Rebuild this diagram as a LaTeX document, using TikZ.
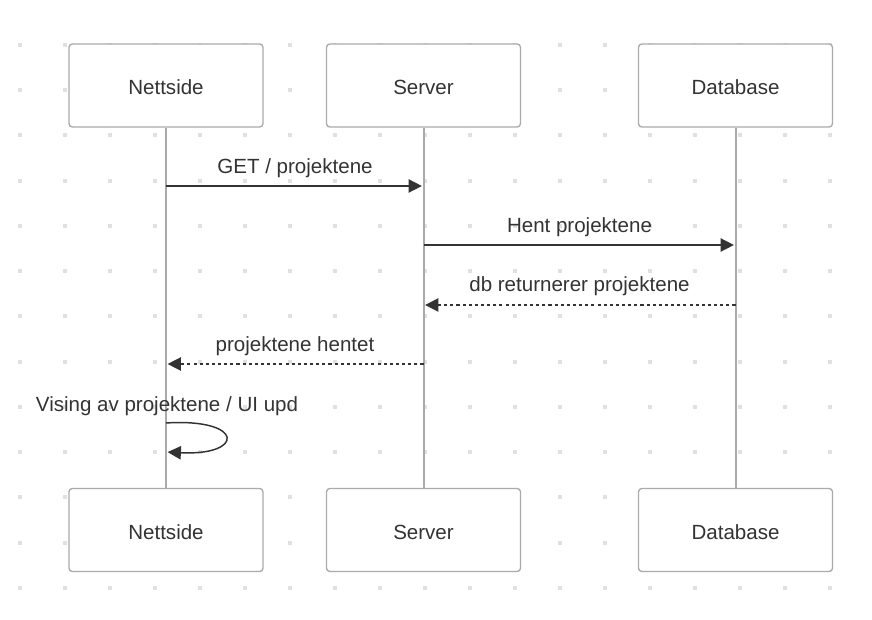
\documentclass[tikz,border=0pt]{standalone}
\usepackage{fontspec}
\setmainfont{Liberation Sans}
\usetikzlibrary{arrows.meta,positioning,calc}
\definecolor{ink}{HTML}{333333}
\definecolor{frame}{HTML}{AAAAAA}
\definecolor{dotgray}{HTML}{E0E0E0}
\tikzset{>={Triangle[length=10pt,width=10pt]}}

\begin{document}
\begin{tikzpicture}[x=0.75pt,y=-0.75pt,
  actor/.style={draw=frame,line width=1pt,rounded corners=2.5pt,fill=white,
    minimum width=145.5pt,minimum height=62.25pt,inner sep=0pt,
    text height=14pt,text depth=0pt,
    text=ink,font=\fontsize{15.4}{18}\selectfont},
  lifeline/.style={draw=frame,line width=1.5pt},
  msg/.style={->,draw=ink,line width=1.1pt,shorten >=1.2pt},
  reply/.style={msg,dash pattern=on 2.3pt off 2.3pt},
  lbl/.style={text=ink,inner sep=0pt,font=\fontsize{15.4}{18}\selectfont}]

\useasboundingbox (0,0) rectangle (872,620);

% dotted background
\foreach \i in {0,...,18}
  \foreach \j in {0,...,12}
    \fill[dotgray] ({20+45*\i-2},{45+45.25*\j-2}) rectangle ++(4,4);

% participants
\node [actor] (nett1) at (166,85.5) {Nettside};
\node [actor] (serv1) at (423.5,85.5) {Server};
\node [actor] (db1) at (735.5,85.5) {Database};
\node [actor] (nett2) at (166,530) {Nettside};
\node [actor] (serv2) at (423.5,530) {Server};
\node [actor] (db2) at (735.5,530) {Database};

\draw[lifeline] (nett1) -- (nett2);
\draw[lifeline] (serv1) -- (serv2);
\draw[lifeline] (db1) -- (db2);

% messages
\coordinate (get-a) at (nett1 |- 0,186);
\coordinate (get-b) at (serv1 |- 0,186);
\coordinate (hent-a) at (serv1 |- 0,245);
\coordinate (hent-b) at (db1 |- 0,245);
\coordinate (ret-a) at (db1 |- 0,305);
\coordinate (ret-b) at (serv1 |- 0,305);
\coordinate (done-a) at (serv1 |- 0,364);
\coordinate (done-b) at (nett1 |- 0,364);
\coordinate (ui-a) at (nett1 |- 0,423);
\coordinate (ui-b) at (nett1 |- 0,452);

\draw[msg] (get-a) -- (get-b);
\draw[msg] (hent-a) -- (hent-b);
\draw[reply] (ret-a) -- (ret-b);
\draw[reply] (done-a) -- (done-b);
\draw[msg] (ui-a) .. controls (245,418) and (245,456) .. (ui-b);

\node [lbl] (getlbl) at (295,168) {GET / projektene};
\node [lbl] (hentlbl) at (579.5,227) {Hent projektene};
\node [lbl] (retlbl) at (579.5,286) {db returnerer projektene};
\node [lbl] (donelbl) at (295,346) {projektene hentet};
\node [lbl] (uilbl) at (167,406) {Vising av projektene / UI upd};

\end{tikzpicture}
\end{document}
